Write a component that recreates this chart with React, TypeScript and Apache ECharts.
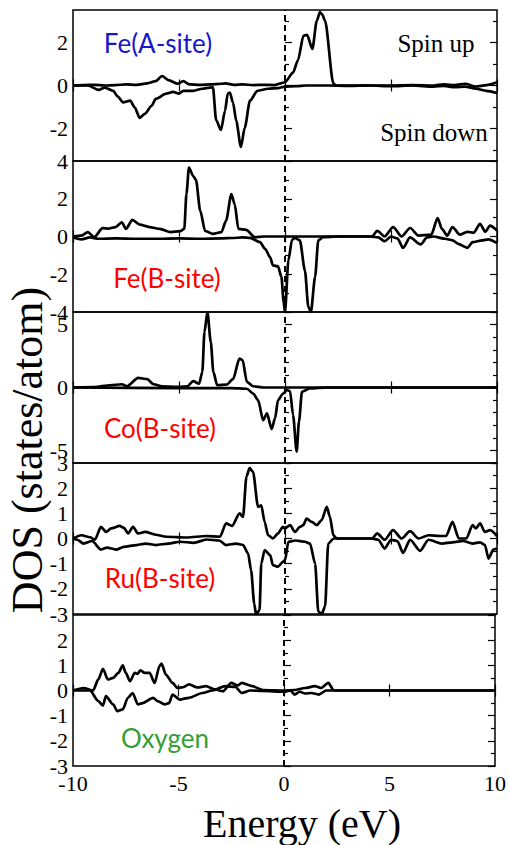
import React, { useEffect, useRef } from "react";
import * as echarts from "echarts";

// ---------- data (energy eV, DOS states/atom) ----------
const feA_up: [number, number][] = [
  [-10, 0], [-9.5, 0.02], [-9, 0.03], [-8.5, 0], [-8, 0.02], [-7.5, 0.05], [-7, 0.03], [-6.5, 0.1], [-6.1, 0.2], [-5.8, 0.44],
  [-5.5, 0.25], [-5.05, 0.08], [-4.8, 0.2], [-4.5, 0.05], [-4.0, 0.03], [-3.5, 0.05], [-3.0, 0.08], [-2.8, 0.1], [-2.4, 0.03],
  [-2.0, 0.05], [-1.5, 0.02], [-1.0, 0.03], [-0.5, 0.02], [-0.2, 0.1], [0, 0.15], [0.38, 0.6], [0.61, 1.17], [0.87, 2.3],
  [1.04, 2.35], [1.29, 1.7], [1.5, 3.0], [1.65, 3.4], [1.75, 3.3], [1.89, 3.0], [2.28, 0.1], [2.4, 0], [3, 0], [4, 0], [5, 0],
  [6, 0.02], [7, 0], [7.5, 0.05], [8, 0.02], [8.5, 0.08], [9, -0.05], [9.5, 0.02], [10, 0.15],
];
const feA_dn: [number, number][] = [
  [-10, 0], [-9.3, 0], [-8.8, -0.2], [-8.5, -0.1], [-8.1, -0.25], [-7.9, -0.5], [-7.64, -0.78], [-7.3, -0.7], [-7.1, -1.0],
  [-6.85, -1.5], [-6.6, -1.3], [-6.3, -0.95], [-6.1, -0.62], [-5.6, -0.38], [-5.28, -0.3], [-5.0, -0.38], [-4.8, -0.25],
  [-4.33, -0.25], [-3.9, -0.15], [-3.55, -0.1], [-3.4, -0.08], [-3.25, -1.6], [-3.02, -2.06], [-2.83, -1.17], [-2.7, -0.38],
  [-2.6, -0.33], [-2.45, -0.8], [-2.3, -1.64], [-2.08, -2.85], [-1.9, -1.96], [-1.65, -0.7], [-1.3, -0.25], [-0.8, -0.15],
  [-0.3, -0.12], [0, -0.05], [0.5, -0.03], [1, 0], [2, 0], [3, -0.02], [4, 0], [5, -0.03], [6, 0], [7, -0.05], [7.5, -0.02],
  [8, -0.08], [8.5, -0.05], [9, -0.15], [9.5, -0.25], [10, -0.35],
];
const feB_up: [number, number][] = [
  [-10, 0], [-9.6, 0.05], [-9.3, 0.23], [-9.0, -0.03], [-8.6, 0.44], [-8.3, 0.42], [-8.0, 0.5], [-7.7, 0.75], [-7.5, 0.4],
  [-7.2, 0.88], [-6.85, 0.63], [-6.4, 0.5], [-5.9, 0.4], [-5.4, 0.23], [-4.95, 0.28], [-4.75, 0.4], [-4.65, 2.25], [-4.53, 3.65],
  [-4.33, 3.2], [-4.2, 3.0], [-4.0, 1.37], [-3.77, 0.3], [-3.4, 0.14], [-3.0, 0.23], [-2.78, 0.84], [-2.53, 2.25], [-2.37, 1.7],
  [-2.2, 0.4], [-1.83, 0.35], [-1.43, -0.03], [-1, 0], [0, 0], [1, 0], [2, 0], [3, 0], [4.1, 0], [4.35, 0.3], [4.7, 0],
  [5.1, 0.5], [5.5, 0.0], [5.9, 0.45], [6.3, 0.05], [6.9, 0.1], [7.2, 0.98], [7.4, 0.4], [7.65, 0.05], [7.9, 0.5], [8.25, 0.1],
  [8.6, 0.25], [8.9, 0.2], [9.2, 0.67], [9.45, 0.25], [9.67, 0.58], [10, 0.32],
];
const feB_dn: [number, number][] = [
  [-10, -0.05], [-9.6, -0.15], [-9.2, -0.05], [-8.8, -0.12], [-8, -0.1], [-7, -0.12], [-6, -0.12], [-5, -0.1], [-4, -0.12],
  [-3, -0.1], [-2.5, -0.08], [-2, -0.05], [-1.65, -0.07], [-1.18, -0.3], [-0.94, -0.65], [-0.7, -1.1], [-0.57, -1.53],
  [-0.33, -1.58], [-0.17, -2.14], [-0.06, -3.5], [0.0, -4], [0.16, -1.26], [0.33, -0.18], [0.47, -0.07], [0.7, -0.2],
  [0.94, -1.8], [1.1, -3.72], [1.22, -4], [1.42, -2.14], [1.57, -0.2], [1.8, -0.03], [2.5, 0], [3, 0], [4, 0], [4.4, -0.05],
  [4.7, -0.25], [5.0, 0], [5.3, -0.1], [5.57, -0.6], [5.9, -0.05], [6.4, -0.42], [6.7, -0.05], [7.0, 0], [7.55, -0.12],
  [7.9, -0.2], [8.17, -0.39], [8.6, -0.6], [8.85, -0.3], [9.3, -0.2], [9.6, -0.15], [10, -0.35],
];
const co_up: [number, number][] = [
  [-10, 0], [-9, 0.03], [-8.25, 0.18], [-7.7, 0.26], [-7.45, 0.1], [-6.93, 0.77], [-6.5, 0.66], [-6.2, 0.26], [-5.8, 0.1],
  [-5, 0.05], [-4.6, 0.1], [-4.33, 0.5], [-4.05, 0.3], [-3.9, 1.24], [-3.8, 4.4], [-3.66, 6.0], [-3.5, 3.6], [-3.38, 1.24],
  [-3.2, 0.18], [-2.75, 0.24], [-2.45, 0.66], [-2.15, 2.3], [-2.0, 2.17], [-1.8, 0.45], [-1.5, 0.1], [-1.0, 0], [0, 0], [10, 0],
];
const co_dn: [number, number][] = [
  [-10, 0], [-5, -0.05], [-2.5, -0.05], [-1.8, -0.1], [-1.5, -0.48], [-1.27, -1.0], [-1.03, -2.6], [-0.85, -2.06],
  [-0.63, -3.3], [-0.47, -2.46], [-0.33, -1.0], [-0.09, -0.48], [0.09, -0.2], [0.24, -0.3], [0.38, -2.2], [0.55, -5.1],
  [0.66, -2.7], [0.8, -0.34], [1.18, -0.08], [2, 0], [10, 0],
];
const ru_up: [number, number][] = [
  [-10, 0], [-9.6, 0.13], [-9.2, 0.05], [-8.97, -0.05], [-8.68, 0.46], [-8.44, 0.26], [-8.2, 0.4], [-7.8, 0.5], [-7.6, 0.42],
  [-7.4, 0.2], [-7.17, 0.46], [-6.93, 0.2], [-6.6, 0.26], [-6.1, 0.15], [-5.6, 0.07], [-4.65, 0.04], [-3.7, 0.1], [-3.07, 0.07],
  [-2.78, 0.6], [-2.5, 0.5], [-2.14, 1.0], [-1.98, 0.86], [-1.82, 2.45], [-1.67, 2.8], [-1.51, 2.65], [-1.27, 1.26],
  [-1.12, 1.32], [-0.96, 0.66], [-0.8, 0.13], [-0.57, 0], [-0.33, 0.2], [-0.1, 0.46], [0, 0.4], [0.24, 0.53], [0.47, 0.26],
  [0.7, 0.46], [0.86, 0.53], [1.02, 0.79], [1.26, 0.66], [1.5, 0.53], [1.73, 0.73], [1.97, 1.26], [2.12, 0.86], [2.28, 0.13],
  [2.44, 0], [4.1, 0], [4.35, 0.2], [4.7, -0.05], [5.1, 0.33], [5.5, 0.0], [5.9, 0.29], [6.3, 0.0], [6.77, 0.13], [7.3, 0.1],
  [7.6, 0.1], [7.9, 0.66], [8.2, 0], [8.55, 0], [8.85, 0.53], [9.0, 0.4], [9.2, 0.6], [9.43, 0.26], [9.67, 0.33], [10, 0.1],
];
const ru_dn: [number, number][] = [
  [-10, 0], [-9.8, -0.05], [-9.5, -0.2], [-9.1, -0.1], [-8.68, -0.44], [-8.4, -0.36], [-7.97, -0.44], [-7.6, -0.33],
  [-7.0, -0.26], [-6.56, -0.2], [-6.1, -0.26], [-5.5, -0.2], [-4.95, -0.13], [-4.3, -0.17], [-3.7, -0.04], [-3.1, -0.08],
  [-2.78, -0.26], [-2.3, -0.2], [-1.98, -0.26], [-1.74, -0.6], [-1.6, -1.26], [-1.45, -2.6], [-1.37, -3.0], [-1.2, -2.85],
  [-1.12, -1.0], [-0.96, -0.46], [-0.7, -0.66], [-0.57, -1.06], [-0.33, -1.12], [-0.1, -0.93], [0, -0.86], [0.16, -0.13],
  [0.5, -0.08], [0.94, -0.13], [1.18, -0.2], [1.42, -1.0], [1.57, -2.9], [1.73, -3.0], [1.89, -2.7], [2.04, -0.2], [2.3, 0],
  [4.1, 0], [4.4, -0.05], [4.7, -0.4], [5.0, -0.05], [5.3, -0.1], [5.57, -0.57], [5.9, -0.05], [6.37, -0.49], [6.77, -0.05],
  [7.4, -0.2], [7.9, -0.15], [8.4, -0.1], [8.85, -0.2], [9.2, -0.15], [9.43, -0.26], [9.6, -0.8], [9.83, -0.44], [10, -0.4],
];
const ox_up: [number, number][] = [
  [-10, 0], [-9.5, 0.1], [-9.05, 0], [-8.8, 0.44], [-8.58, 0.86], [-8.35, 0.44], [-8.1, 0.5], [-7.85, 0.7], [-7.64, 1.0],
  [-7.5, 0.7], [-7.3, 0.37], [-7.07, 0.7], [-6.95, 0.66], [-6.8, 0.8], [-6.6, 0.7], [-6.37, 0.7], [-6.13, 0.3], [-5.9, 0.97],
  [-5.8, 1.07], [-5.6, 0.63], [-5.28, 0.3], [-5.05, 0.1], [-4.8, 0.13], [-4.5, 0.24], [-4.1, 0.12], [-3.7, 0.17], [-3.3, 0.05],
  [-2.9, -0.03], [-2.5, 0.3], [-2.2, 0.2], [-2.0, 0.3], [-1.5, 0.17], [-1.0, 0.02], [0, 0], [0.5, 0.02], [1.0, 0.1],
  [1.46, 0.17], [1.75, 0.1], [2.1, 0.3], [2.36, 0], [3, 0], [10, 0],
];
const ox_dn: [number, number][] = [
  [-10, 0], [-9.2, 0], [-8.8, -0.42], [-8.58, -0.6], [-8.44, -0.22], [-8.1, -0.55], [-7.9, -0.82], [-7.64, -0.75],
  [-7.4, -0.29], [-7.17, -0.1], [-6.93, -0.55], [-6.7, -0.5], [-6.2, -0.29], [-6.0, -0.42], [-5.66, -0.55], [-5.45, -0.5],
  [-5.28, -0.16], [-4.95, -0.36], [-4.5, -0.29], [-3.87, -0.1], [-3.4, 0], [-2.78, 0.17], [-2.3, 0.14], [-2.0, -0.1],
  [-1.6, 0], [-1, -0.02], [0, -0.05], [0.3, 0], [0.5, -0.16], [0.75, -0.05], [1.0, -0.12], [1.3, -0.1], [1.65, -0.16],
  [2.0, 0], [10, 0],
];

// axis ranges and ticks
const panelNames = ["Fe(A-site)", "Fe(B-site)", "Co(B-site)", "Ru(B-site)", "Oxygen"];
const panelColors = ["#1818c8", "#ff0000", "#ff0000", "#ff0000", "#33a033"];
const yMins = [-3.5, -4, -6, -3, -3];
const yMaxs = [3.5, 4, 6, 3, 3];
const majorTicks = [[-2, 0, 2], [-4, -2, 0, 2, 4], [-5, 0, 5], [-3, -2, -1, 0, 1, 2, 3], [-3, -2, -1, 0, 1, 2, 3]];
const minorTicks = [[-3, -1, 1, 3], [-3, -1, 1, 3], [-6, -4, -3, -2, -1, 1, 2, 3, 4, 6], [-2.5, -1.5, -0.5, 0.5, 1.5, 2.5], [-2.5, -1.5, -0.5, 0.5, 1.5, 2.5]];
const yLabels = [[-2, 0, 2], [-4, -2, 0, 2, 4], [-5, 0, 5], [-3, -2, -1, 0, 1, 2, 3], [-3, -2, -1, 0, 1, 2]];
const energyMin = -10;
const energyMax = 10;
const energyInterval = 5;

const upSeries = [feA_up, feB_up, co_up, ru_up, ox_up];
const dnSeries = [feA_dn, feB_dn, co_dn, ru_dn, ox_dn];

// layout
const GRID_TOPS = [10, 161, 312, 463, 615];
const GRID_H = 151;
const GRID_LEFT = 73;
const GRID_W = 424;
const SERIF = "Liberation Serif, Times New Roman, serif";
const SANS = "Lato, sans-serif";
const labelPos: [number, number][] = [[158, 43], [167, 278], [160, 428], [160, 578], [165, 738]];

function txt(x: number, y: number, text: string, size: number, family: string, fill: string, rotation = 0) {
  return {
    type: "text", x, y, rotation,
    style: {
      text, fill, fontSize: size, fontFamily: family,
      textAlign: "center", textVerticalAlign: "middle", verticalAlign: "middle",
    },
  };
}

export default function App() {
  const ref = useRef<HTMLDivElement>(null);
  useEffect(() => {
    document.body.style.margin = "0";
    const chart = echarts.init(ref.current!, null, { renderer: "svg" });
    const grids: any[] = [];
    const xAxes: any[] = [];
    const yAxes: any[] = [];
    const series: any[] = [];
    for (let i = 0; i < 5; i++) {
      grids.push({
        left: GRID_LEFT, top: GRID_TOPS[i], width: GRID_W, height: GRID_H,
        show: true, borderColor: "#000", borderWidth: 1.5, backgroundColor: "transparent",
      });
      const xBase = {
        gridIndex: i, type: "value", min: energyMin, max: energyMax, interval: energyInterval,
        axisLine: { show: false }, splitLine: { show: false },
        axisTick: { show: true, inside: true, length: 6, lineStyle: { color: "#000", width: 1.2 } },
      };
      const xb = xAxes.length;
      xAxes.push({
        ...xBase, position: "bottom",
        axisLabel: { show: i === 4, color: "#000", fontFamily: SERIF, fontSize: 22, margin: 6 },
      });
      xAxes.push({ ...xBase, position: "top", axisLabel: { show: false } });
      const yb = yAxes.length;
      const yBase = {
        gridIndex: i, type: "value", min: yMins[i], max: yMaxs[i],
        axisLine: { show: false }, splitLine: { show: false },
      };
      for (const pos of ["left", "right"]) {
        yAxes.push({
          ...yBase, position: pos,
          axisTick: { show: true, inside: true, length: 7, customValues: majorTicks[i], lineStyle: { color: "#000", width: 1.2 } },
          axisLabel: pos === "left"
            ? { show: true, customValues: yLabels[i], color: "#000", fontFamily: SERIF, fontSize: 22, margin: 5 }
            : { show: false },
        });
        yAxes.push({
          ...yBase, position: pos,
          axisTick: { show: true, inside: true, length: 4, customValues: minorTicks[i], lineStyle: { color: "#000", width: 1.2 } },
          axisLabel: { show: false },
        });
      }
      const common = {
        type: "line", xAxisIndex: xb, yAxisIndex: yb, showSymbol: false, symbol: "none",
        smooth: 0.25, smoothMonotone: "x", clip: true,
        lineStyle: { color: "#000", width: 2.7 }, itemStyle: { color: "#000" },
      };
      series.push({
        ...common, name: `up${i}`, data: upSeries[i],
        markLine: {
          silent: true, symbol: ["none", "none"], label: { show: false },
          lineStyle: { color: "#000", type: [6, 4], width: 2 },
          data: [{ xAxis: 0 }],
        },
      });
      series.push({ ...common, name: `dn${i}`, data: dnSeries[i] });
    }
    const graphic: any[] = [];
    for (let i = 0; i < 5; i++) {
      graphic.push(txt(labelPos[i][0], labelPos[i][1], panelNames[i], 26, SANS, panelColors[i]));
    }
    graphic.push(
      txt(436, 43, "Spin up", 25, SERIF, "#000"),
      txt(434, 132, "Spin down", 25, SERIF, "#000"),
      txt(302, 823, "Energy (eV)", 40, SERIF, "#000"),
      txt(27, 450, "DOS (states/atom)", 44, SERIF, "#000", Math.PI / 2),
    );
    chart.setOption({
      animation: false,
      backgroundColor: "#fff",
      textStyle: { fontFamily: SERIF },
      grid: grids, xAxis: xAxes, yAxis: yAxes, series, graphic,
    });
    return () => chart.dispose();
  }, []);
  return <div ref={ref} style={{ width: 509, height: 845 }} />;
}
